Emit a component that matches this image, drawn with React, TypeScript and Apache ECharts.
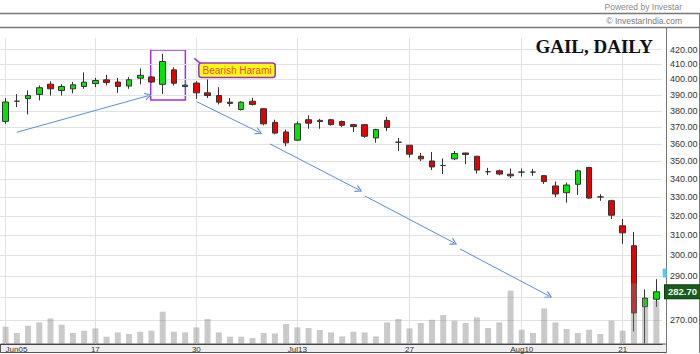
import React, { useEffect, useRef } from 'react';
import * as echarts from 'echarts';

// Trading days (GAIL, daily, Jun–Aug 2015)
const dates = [
  '2015-06-05', '2015-06-08', '2015-06-09', '2015-06-10', '2015-06-11', '2015-06-12',
  '2015-06-15', '2015-06-16', '2015-06-17', '2015-06-18', '2015-06-19', '2015-06-22',
  '2015-06-23', '2015-06-24', '2015-06-25', '2015-06-26', '2015-06-29', '2015-06-30',
  '2015-07-01', '2015-07-02', '2015-07-03', '2015-07-06', '2015-07-07', '2015-07-08',
  '2015-07-09', '2015-07-10', '2015-07-13', '2015-07-14', '2015-07-15', '2015-07-16',
  '2015-07-17', '2015-07-20', '2015-07-21', '2015-07-22', '2015-07-23', '2015-07-24',
  '2015-07-27', '2015-07-28', '2015-07-29', '2015-07-30', '2015-07-31', '2015-08-03',
  '2015-08-04', '2015-08-05', '2015-08-06', '2015-08-07', '2015-08-10', '2015-08-11',
  '2015-08-12', '2015-08-13', '2015-08-14', '2015-08-17', '2015-08-18', '2015-08-19',
  '2015-08-20', '2015-08-21', '2015-08-24', '2015-08-25', '2015-08-26',
];

const tickDates = ['2015-06-05', '2015-06-17', '2015-06-30', '2015-07-13', '2015-07-27', '2015-08-10', '2015-08-21'];
const tickLabels = ['Jun05', '17', '30', 'Jul13', '27', 'Aug10', '21'];

const opens = [
  373.5, 386, 387.7, 390.3, 396.9, 392.8, 393.9, 395.4, 397.3, 399.7, 398.3, 395.7, 400.8, 401.6, 396.8,
  406.3, 395.4, 397.6, 391.3, 389.6, 385.4, 380.8, 386, 381.3, 372.9, 367.1, 362.2, 374.5, 373.4, 374.5,
  373.4, 371.5, 371.5, 363.5, 374.1, 361, 359.2, 352.8, 350.1, 347.5, 351.3, 354.7, 352.8, 344, 344.5,
  342.6, 343.8, 343.8, 341.8, 336.1, 332.4, 337, 346.4, 330.1, 328.1, 314.9, 304.8, 275.9, 279.3,
];
const closes = [
  385.5, 386, 389.6, 394.6, 393.9, 395.4, 396.5, 398.2, 399.3, 398, 395.4, 399.8, 402.7, 398.3, 411.9,
  397.5, 396.3, 391.3, 389.6, 385.4, 384.6, 385.4, 384, 372, 366.4, 360.6, 372, 372.4, 374.1, 371.5,
  371.1, 370.4, 364.5, 368.5, 369.8, 361, 354, 351.3, 346.7, 347.5, 354.4, 353.8, 344.9, 344, 342.7,
  341.7, 343.8, 343.8, 338.5, 331.7, 336.6, 344.5, 329.5, 330.1, 320.4, 311.3, 273.1, 279.8, 282.7,
];
const lows = [
  372, 382.3, 377.8, 386.5, 389.6, 389.6, 391, 393.9, 395, 396.1, 391.3, 393.9, 396.8, 397.8, 390.7,
  396, 395, 387.5, 388, 384, 382.7, 380.2, 383.3, 371.1, 365.6, 358.6, 361.8, 369, 369, 370.9,
  370, 367.1, 363.6, 360.7, 367.7, 355.9, 352.1, 350, 344.9, 342.7, 350.6, 348.2, 343, 342.1, 342,
  340.4, 341.3, 341.7, 337.2, 330, 327, 331.2, 329, 328, 318.4, 305.8, 265, 259.8, 275.8,
];
const highs = [
  388, 390.5, 392.8, 396.1, 398.8, 396.9, 398.3, 404.6, 401, 403, 401, 401.5, 407.3, 402, 417.1,
  408, 396.5, 398.8, 400, 395, 388, 386, 388.2, 381.6, 374.5, 368.5, 373.5, 377.2, 375, 375,
  374, 371.7, 371.7, 369, 376.2, 363.5, 359.4, 354.7, 355.3, 351.5, 355.9, 354.8, 353, 346.2, 345.2,
  345.8, 345.8, 345.6, 342.1, 338.5, 338, 345.2, 346.7, 331.6, 328.5, 318.4, 311.8, 283.8, 288.6,
];
// volume (lakh shares, approximate)
const volumes = [
  17.3, 11, 18.3, 21.6, 25.6, 19.3, 11, 13.3, 15.6, 7.3, 11.6, 10, 12.3, 13.3, 32.3,
  12.3, 11.6, 16.6, 25, 11.6, 7.3, 7.3, 6, 11, 10.6, 20, 16.6, 16, 14, 11.6,
  7.6, 12.3, 11.6, 7.6, 21.6, 25, 15.6, 21, 24.3, 29, 23.3, 21, 26.6, 16, 21.6,
  53.3, 14.3, 11, 35.6, 21.6, 15, 11, 14.3, 10, 23.3, 13.3, 60.6, 45, 43,
];

const priceTicks = [270, 280, 290, 300, 310, 320, 330, 340, 350, 360, 370, 380, 390, 400, 410, 420];
const lastPrice = 282.7;

// annotation positions in data units [candle index, price]
const trendArrows: [number, number][][] = [
  [[0.99, 366.9], [12.72, 389.5]],
  [[17.03, 385.7], [22.58, 366.9]],
  [[23.56, 360.0], [31.5, 333.9]],
  [[32.03, 330.6], [39.96, 306.3]],
  [[40.5, 303.2], [48.43, 280.8]],
];
const haramiBox: [number, number][] = [[12.93, 419.7], [16.02, 386.8]];
const haramiLabelAt: [number, number] = [17.33, 410.0];
const haramiTail: [number, number][] = [[16.82, 414.0], [17.68, 408.5]];
const cyanMarkAt: [number, number] = [58.5, 291.5];

const arrowHead = 'path://M0,10L5,0L10,10L8.4,10L5,3.2L1.6,10Z';

export default function App() {
  const ref = useRef<HTMLDivElement>(null);
  useEffect(() => {
    const chart = echarts.init(ref.current!, null, { renderer: 'svg' });
    const n = dates.length;
    const tickIdx = tickDates.map((d) => dates.indexOf(d));
    const font = 'Liberation Sans, Arial, sans-serif';
    const candleData = dates.map((_, i) => [opens[i], closes[i], lows[i], highs[i]]);

    chart.setOption({
      animation: false,
      backgroundColor: '#ffffff',
      textStyle: { fontFamily: font },
      title: {
        text: 'GAIL, DAILY',
        right: 47,
        top: 37,
        padding: 0,
        textStyle: { fontFamily: 'Liberation Serif, Times New Roman, serif', fontSize: 19, fontWeight: 'bold', color: '#111' },
      },
      grid: { left: 0, right: 38, top: 38, bottom: 10, containLabel: false },
      xAxis: [
        {
          type: 'category',
          data: dates,
          boundaryGap: true,
          axisLine: { show: true, lineStyle: { color: '#444', width: 1 } },
          axisTick: { show: false },
          splitLine: { show: false },
          axisLabel: {
            interval: (i: number) => tickIdx.includes(i),
            formatter: (v: string) => {
              const k = tickDates.indexOf(v);
              return k >= 0 ? tickLabels[k] : '';
            },
            fontSize: 8,
            color: '#333',
            margin: 1,
            alignMinLabel: 'left',
          },
        },
        { type: 'value', min: -0.5, max: n - 0.5, show: false },
      ],
      yAxis: [
        { type: 'log', logBase: 10, min: 259.6, max: 428, show: false },
        { type: 'value', min: 0, max: 306, show: false },
      ],
      graphic: [
        { type: 'rect', z: -5, shape: { x: 0.5, y: 344, width: 666, height: 8.5 }, style: { fill: '#efefef', stroke: '#555', lineWidth: 1 } },
        { type: 'text', x: 682, y: 7, style: { text: 'Powered by Investar', align: 'right', verticalAlign: 'middle', fontSize: 8.5, fill: '#8a8a8a', fontFamily: font } },
        { type: 'line', shape: { x1: 0, y1: 13.5, x2: 700, y2: 13.5 }, style: { stroke: '#777', lineWidth: 1.5 } },
        { type: 'text', x: 682, y: 21, style: { text: '© InvestarIndia.com', align: 'right', verticalAlign: 'middle', fontSize: 8.5, fill: '#7a7a7a', fontFamily: font } },
        { type: 'line', shape: { x1: 0, y1: 27.5, x2: 700, y2: 27.5 }, style: { stroke: '#777', lineWidth: 1.5 } },
        { type: 'line', shape: { x1: 666.5, y1: 27.5, x2: 666.5, y2: 353 }, style: { stroke: '#777', lineWidth: 1 } },
        { type: 'line', shape: { x1: 699.5, y1: 13, x2: 699.5, y2: 353 }, style: { stroke: '#777', lineWidth: 1 } },
      ],
      series: [
        {
          name: 'grid',
          type: 'scatter',
          xAxisIndex: 1,
          yAxisIndex: 0,
          data: [[0, 300]],
          symbolSize: 0,
          silent: true,
          z: 1,
          markLine: {
            silent: true,
            symbol: 'none',
            lineStyle: { color: '#e2e2e2', width: 1, type: 'solid' },
            label: {
              show: true,
              position: 'end',
              distance: 8,
              formatter: (p: any) => Number(p.value).toFixed(2),
              fontSize: 9,
              color: '#333',
              fontFamily: font,
            },
            emphasis: { disabled: true },
            data: [
              ...priceTicks.map((v) => (v === 280 ? { yAxis: v, label: { show: false } } : { yAxis: v })),
              ...tickIdx.map((i) => ({ xAxis: i, label: { show: false } })),
            ],
          },
        },
        {
          name: 'Price',
          type: 'candlestick',
          xAxisIndex: 0,
          yAxisIndex: 0,
          data: candleData,
          barWidth: 6,
          z: 10,
          silent: true,
          itemStyle: {
            color: '#00e600',
            color0: '#e60000',
            borderColor: '#333',
            borderColor0: '#333',
            borderWidth: 1,
          },
        },
        {
          name: 'Volume',
          type: 'bar',
          xAxisIndex: 0,
          yAxisIndex: 1,
          data: volumes,
          barWidth: 6,
          z: 11,
          silent: true,
          itemStyle: { color: 'rgba(128,128,128,0.42)' },
        },
        {
          name: 'annotations',
          type: 'scatter',
          xAxisIndex: 1,
          yAxisIndex: 0,
          data: [[0, 300]],
          symbolSize: 0,
          silent: true,
          z: 12,
          markLine: {
            silent: true,
            symbol: ['none', arrowHead],
            symbolSize: [8, 7],
            lineStyle: { color: '#5b8ed6', width: 1, type: 'solid' },
            label: { show: false },
            emphasis: { disabled: true },
            data: trendArrows.map(([a, b]) => [{ coord: a }, { coord: b }]),
          },
          markArea: {
            silent: true,
            itemStyle: { color: 'rgba(0,0,0,0)', borderColor: '#a030e0', borderWidth: 1.5 },
            emphasis: { disabled: true },
            data: [[{ coord: haramiBox[0] }, { coord: haramiBox[1] }]],
          },
        },
        {
          name: 'callout',
          type: 'scatter',
          xAxisIndex: 1,
          yAxisIndex: 0,
          data: [[0, 300]],
          symbolSize: 0,
          silent: true,
          z: 13,
          markLine: {
            silent: true,
            symbol: 'none',
            lineStyle: { color: '#a030e0', width: 1.5, type: 'solid' },
            label: { show: false },
            emphasis: { disabled: true },
            data: [[{ coord: haramiTail[0] }, { coord: haramiTail[1] }]],
          },
          markPoint: {
            silent: true,
            emphasis: { disabled: true },
            data: [
              {
                coord: haramiLabelAt,
                symbol: 'rect',
                symbolSize: 1,
                itemStyle: { color: 'rgba(0,0,0,0)' },
                label: {
                  show: true,
                  formatter: 'Bearish Harami',
                  position: [0, 0],
                  align: 'left',
                  verticalAlign: 'top',
                  fontSize: 10,
                  fontFamily: font,
                  color: '#e8405f',
                  backgroundColor: '#ffff00',
                  borderColor: '#9a2fd6',
                  borderWidth: 1.5,
                  borderRadius: 2,
                  padding: [2, 3, 1, 3],
                },
              },
              {
                coord: cyanMarkAt,
                symbol: 'rect',
                symbolSize: [4, 9],
                symbolOffset: [2.6, 0],
                itemStyle: { color: '#55ccf5' },
                label: { show: false },
              },
            ],
          },
        },
        {
          name: 'last',
          type: 'scatter',
          xAxisIndex: 1,
          yAxisIndex: 0,
          data: [[0, 300]],
          symbolSize: 0,
          silent: true,
          z: 14,
          markLine: {
            silent: true,
            symbol: 'none',
            lineStyle: { color: 'rgba(0,0,0,0)', width: 1, type: 'solid' },
            emphasis: { disabled: true },
            label: {
              show: true,
              position: 'end',
              distance: 3,
              formatter: (p: any) => Number(p.value).toFixed(2),
              fontSize: 9.5,
              fontWeight: 'bold',
              fontFamily: font,
              color: '#e8ffe8',
              backgroundColor: '#1d5a1d',
              borderColor: '#0d3d0d',
              borderWidth: 1,
              padding: [2, 3, 1, 3],
            },
            data: [{ yAxis: lastPrice }],
          },
        },
      ],
    });
    return () => chart.dispose();
  }, []);
  return <div ref={ref} style={{ position: 'absolute', left: 0, top: 0, width: 700, height: 354 }} />;
}
